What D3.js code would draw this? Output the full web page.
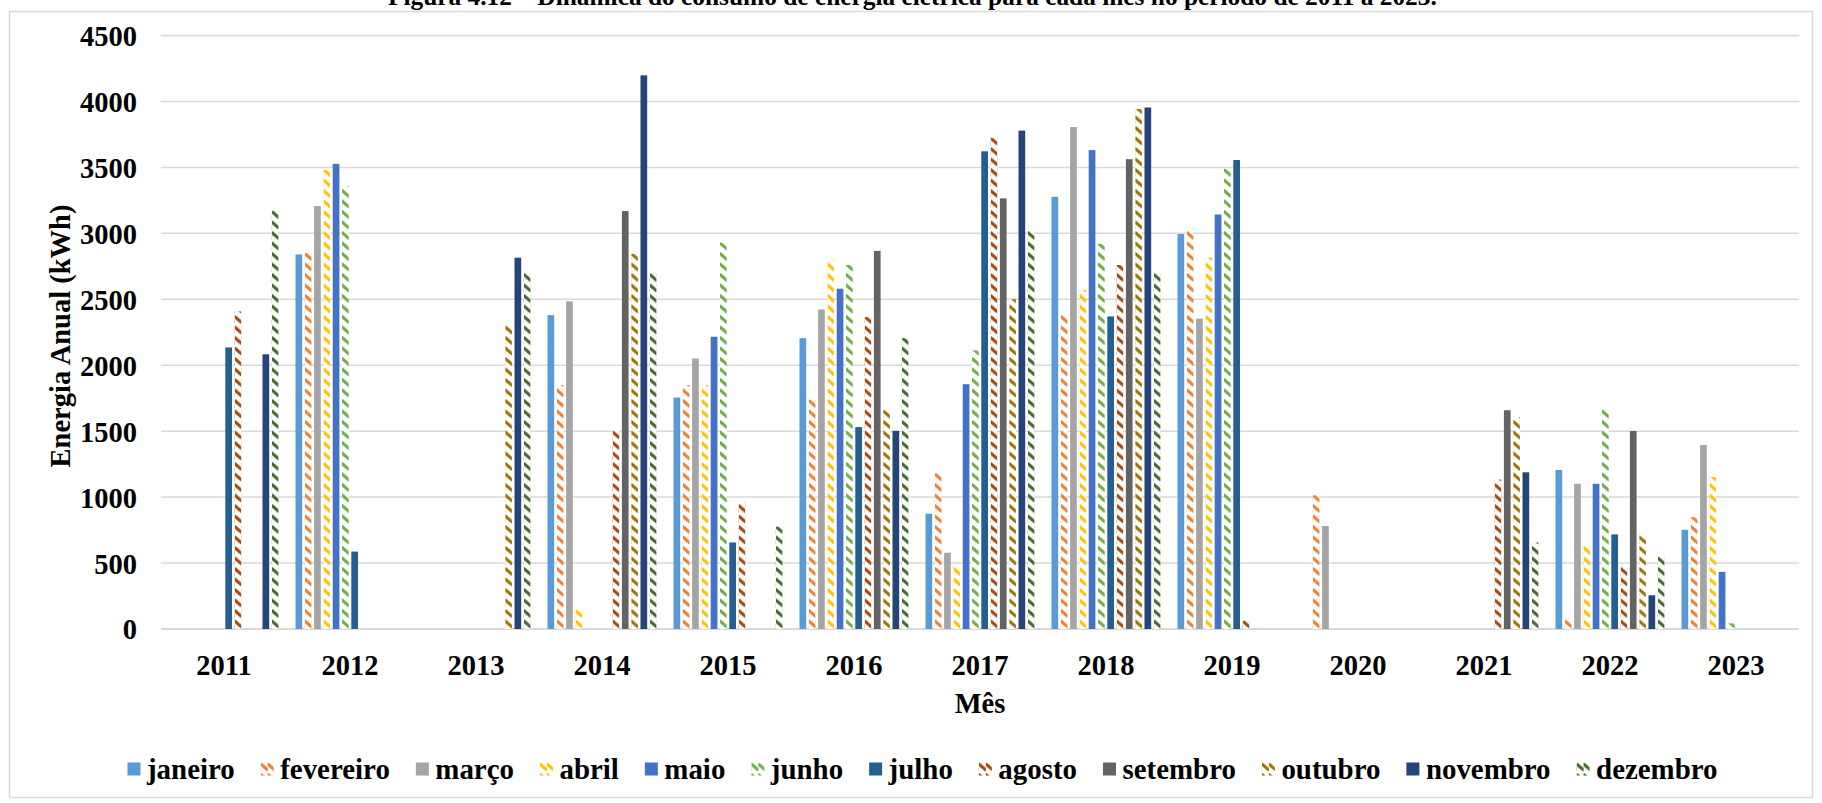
<!DOCTYPE html>
<html><head><meta charset="utf-8">
<script src="https://cdn.jsdelivr.net/npm/d3@7"></script>
<style>
body{margin:0;background:#fff}
svg{display:block}
text{font-family:"Liberation Serif","Times New Roman",serif;font-weight:bold;fill:#000}
</style>
</head><body>
<svg id="c" width="1822" height="803"></svg>
<script>
const years = ["2011","2012","2013","2014","2015","2016","2017","2018","2019","2020","2021","2022","2023"];
const months = ["janeiro","fevereiro","março","abril","maio","junho","julho","agosto","setembro","outubro","novembro","dezembro"];
const yTicks = [0,500,1000,1500,2000,2500,3000,3500,4000,4500];

const janeiro   = [null,2840,null,2380,1755,2205, 874,3277,2995,null,null,1206, 752];
const fevereiro = [null,2850,null,1850,1850,1740,1182,2388,3036,1014,null,  84, 848];
const marco     = [null,3207,null,2484,2051,2423, 578,3806,2353, 781,null,1101,1395];
const abril     = [null,3480,null, 145,1850,2795, 470,2571,2815,null,null, 630,1152];
const maio      = [null,3527,null,null,2216,2580,1856,3631,3143,null,null,1101, 433];
const junho     = [null,3355,null,null,2931,2760,2112,2920,3489,null,null,1671,  43];
const julho     = [2135, 587,null,null, 656,1531,3622,2370,3556,null,null, 717,null];
const agosto    = [2408,null,null,1510, 964,2365,3724,2760,  64,null,1133, 473,null];
const setembro  = [null,null,null,3169,null,2867,3265,3562,null,null,1659,1501,null];
const outubro   = [null,null,2307,2844,null,1662,2501,3942,null,null,1604, 717,null];
const novembro  = [2083,null,2815,4198,null,1502,3779,3954,null,null,1188, 256,null];
const dezembro  = [3172,null,2699,2699, 776,2205,3021,2707,null,null, 656, 562,null];

const series = [janeiro,fevereiro,marco,abril,maio,junho,julho,agosto,setembro,outubro,novembro,dezembro];
const colors = ["#5B9BD5","#ED7D31","#A5A5A5","#FFC000","#4472C4","#70AD47","#255E91","#9E480E","#636363","#997300","#264478","#43682B"];
const hatched = [false,true,false,true,false,true,false,true,false,true,false,true];

const svg = d3.select("#c");
const defs = svg.append("defs");
colors.forEach((c,i)=>{
  if(!hatched[i]) return;
  const p = defs.append("pattern").attr("id","h"+i).attr("patternUnits","userSpaceOnUse")
    .attr("width",7).attr("height",10.5);
  p.append("rect").attr("width",7).attr("height",10.5).attr("fill","#fff");
  p.append("path").attr("d","M-0.5,1 L7.5,8").attr("stroke",c).attr("stroke-width",3.1).attr("fill","none");
});
const fillOf = i => hatched[i] ? `url(#h${i})` : colors[i];

// border
svg.append("rect").attr("x",9.5).attr("y",11.5).attr("width",1803).attr("height",786)
  .attr("fill","none").attr("stroke","#d9d9d9").attr("stroke-width",1.5);

// title (cut at top, as in the reference)
const title = svg.append("text").attr("x",388).attr("y",5).style("font-size","20px")
  .text("Figura 4.12 – Dinâmica do consumo de energia elétrica para cada mês no período de 2011 a 2023.");
const tw = title.node().getComputedTextLength();
title.style("font-size", (20*1049/tw)+"px");

const x = d3.scaleBand().domain(years).range([161,1799]);
const xm = d3.scaleBand().domain(months).range([0,x.bandwidth()]).paddingInner(0.28).paddingOuter(0.915);
const y = d3.scaleLinear().domain([0,4500]).range([629,35.5]);

// gridlines
svg.append("g").selectAll("line").data(yTicks).join("line")
  .attr("x1",161).attr("x2",1799).attr("y1",d=>y(d)).attr("y2",d=>y(d))
  .attr("stroke","#d9d9d9").attr("stroke-width",d=>d===0?2:1.5);

// y tick labels
const yAxis = d3.axisLeft(y).tickValues(yTicks).tickSize(0).tickPadding(0).tickFormat(d3.format("d"));
const ya = svg.append("g").attr("transform","translate(137,0)").call(yAxis);
ya.select(".domain").remove();
ya.selectAll("text").style("font-size","28.5px").attr("dy","0.35em").attr("font-family",null);

// x labels
const xAxis = d3.axisBottom(x).tickSize(0).tickPadding(0);
const xa = svg.append("g").attr("transform","translate(0,665)").call(xAxis);
xa.select(".domain").remove();
xa.selectAll("text").style("font-size","28.5px").attr("dy","0.35em").attr("y",0).attr("font-family",null);

// bars
const bars = svg.append("g");
series.forEach((vals,i)=>{
  vals.forEach((v,j)=>{
    if(v==null) return;
    const bx = x(years[j]) + xm(months[i]);
    bars.append("g").attr("transform",`translate(${bx},0)`)
      .append("rect").attr("x",0).attr("y",y(v)).attr("width",xm.bandwidth())
      .attr("height",y(0)-y(v)).attr("fill",fillOf(i));
  });
});

// axis titles
svg.append("text").attr("text-anchor","middle").attr("transform","translate(60,336) rotate(-90)")
  .attr("dy","0.35em").style("font-size","28.5px").text("Energia Anual (kWh)");
svg.append("text").attr("x",980).attr("y",703).attr("text-anchor","middle").attr("dy","0.35em")
  .style("font-size","28.5px").text("Mês");

// legend
const leg = svg.append("g");
let lx = 127.5;
const ly = 769;
months.forEach((m,i)=>{
  const g = leg.append("g").attr("transform",`translate(${lx},${ly-6.5})`);
  g.append("rect").attr("width",13).attr("height",13).attr("fill",fillOf(i));
  const t = leg.append("text").attr("x",lx+19.5).attr("y",ly).attr("dy","0.35em")
    .style("font-size","28.9px").text(m);
  lx = lx + 19.5 + t.node().getComputedTextLength() + 26;
});
</script>
</body></html>
